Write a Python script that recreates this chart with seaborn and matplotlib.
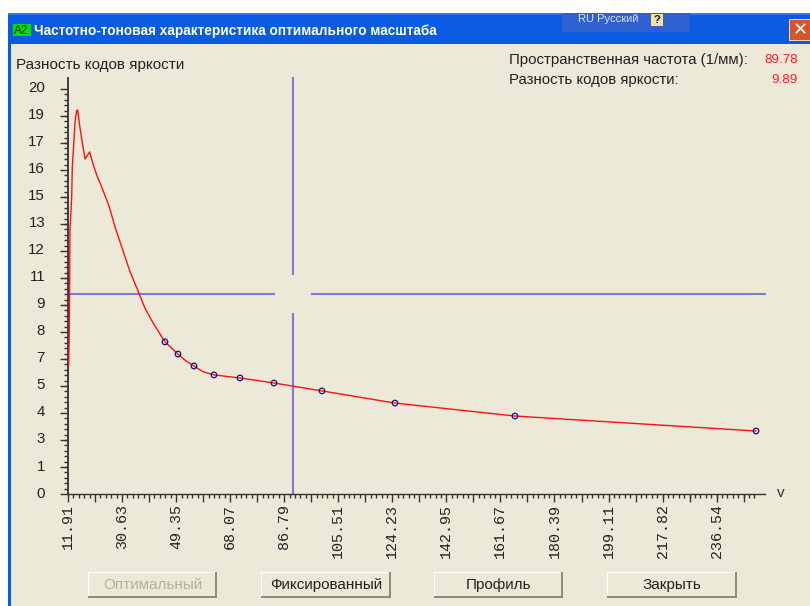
import numpy as np
import seaborn as sns
import matplotlib
matplotlib.use("Agg")
import matplotlib.pyplot as plt
from matplotlib.patches import Rectangle
from matplotlib.transforms import ScaledTranslation

# кривая, значения
curve_x = [12.15, 12.36, 12.60, 13.19, 13.40, 13.99, 14.33, 14.92, 15.27, 16.07, 17.0, 17.8,
           19.42, 20.67, 21.85, 23.58, 26.11, 28.19, 30.51, 33.38, 36.5, 38.57, 41.45,
           45.5, 50.0, 52.77, 55.54, 58.66, 62.47, 71.47, 83.25, 99.87, 125.15, 166.7, 250.2]
curve_y = [6.37, 8.10, 13.04, 14.67, 16.15, 17.48, 18.37, 18.93, 18.96, 18.07, 17.23, 16.54,
           16.89, 16.25, 15.75, 15.16, 14.22, 13.19, 12.2, 10.98, 9.91, 9.17, 8.43,
           7.51, 6.91, 6.57, 6.32, 6.04, 5.88, 5.73, 5.48, 5.09, 4.49, 3.85, 3.11]
point_x = [45.5, 50.0, 55.54, 62.47, 71.47, 83.25, 99.87, 125.15, 166.7, 250.2]
point_y = [7.51, 6.91, 6.32, 5.88, 5.73, 5.48, 5.09, 4.49, 3.85, 3.11]

x_ticks = [11.91, 21.27, 30.63, 39.99, 49.35, 58.71, 68.07, 77.43, 86.79, 96.15, 105.51, 114.87, 124.23,
           133.59, 142.95, 152.31, 161.67, 171.03, 180.39, 189.75, 199.11, 208.47, 217.82, 227.18,
           236.54, 245.9]
x_labels = ["11.91", "", "30.63", "", "49.35", "", "68.07", "", "86.79", "", "105.51", "", "124.23",
            "", "142.95", "", "161.67", "", "180.39", "", "199.11", "", "217.82", "", "236.54", ""]
y_ticks = [0, 1.333, 2.667, 4, 5.333, 6.667, 8, 9.333, 10.667, 12, 13.333, 14.667, 16, 17.333, 18.667, 20]
y_labels = ["0", "1", "3", "4", "5", "7", "8", "9", "11", "12", "13", "15", "16", "17", "19", "20"]

cross_x = 89.78
cross_y = 9.89
cross_v_low = [0, 8.94]
cross_v_high = [10.81, 20.59]
cross_h_left = [11.91, 83.6]
cross_h_right = [96.06, 253.6]

buttons = ["Оптимальный", "Фиксированный", "Профиль", "Закрыть"]
title = "Частотно-тоновая характеристика оптимального масштаба"

W, H = 810, 606
BG = "#ECE9D8"
sans = ["Liberation Sans", "DejaVu Sans"]

sns.set_style("ticks")
plt.rcParams["font.family"] = sans

fig = plt.figure(figsize=(W / 100, H / 100), dpi=100, facecolor="white")


def box(x0, y0, x1, y1, color, z=0):
    fig.add_artist(Rectangle((x0 / W, 1 - y1 / H), (x1 - x0) / W, (y1 - y0) / H, facecolor=color,
                             edgecolor="none", transform=fig.transFigure, zorder=z))


def label(x, y, s, **kw):
    fig.text(x / W, 1 - y / H, s, va="center", **kw)


# окно
box(8, 13, W, H, BG, -5)
box(8, 13, W, 44, "#0A5BE2", -4)
box(8, 13, W, 15, "#2F7BF0", -4)
box(8, 44, 11, H, "#0A5BE2", -4)

# оси
ax = fig.add_axes([68 / W, 1 - 494 / H, 697 / W, 416 / H])
ax.patch.set_alpha(0)

for xs, ys in [([cross_x, cross_x], cross_v_low), ([cross_x, cross_x], cross_v_high),
               (cross_h_left, [cross_y, cross_y]), (cross_h_right, [cross_y, cross_y])]:
    sns.lineplot(x=xs, y=ys, ax=ax, color="#7A7AD8", lw=1.5, estimator=None, sort=False,
                 solid_capstyle="butt", clip_on=False)

sns.lineplot(x=curve_x, y=curve_y, ax=ax, color="#FF1010", lw=1.0, estimator=None, sort=False, zorder=3)
sns.scatterplot(x=point_x, y=point_y, ax=ax, s=16, facecolor="none", edgecolor="#10108C",
                linewidth=0.9, zorder=4)

ax.set_xlim(11.91, 253.3)
ax.set_ylim(0, 20.54)
sns.despine(ax=ax)
for side in ["left", "bottom"]:
    ax.spines[side].set_color("#333333")
ax.spines["left"].set_linewidth(1.3)
ax.spines["bottom"].set_linewidth(1.0)

ax.set_xticks(x_ticks)
ax.set_xticklabels(x_labels, rotation=90, family=["Liberation Mono", "DejaVu Sans"], fontsize=10.8,
                   color="#222222", va="top", ha="center")
ax.set_xticks(np.arange(11.91, 250, 1.872), minor=True)
ax.set_yticks(y_ticks)
ax.set_yticklabels(y_labels, fontsize=10.8, color="#222222")
ax.set_yticks(np.arange(0, 20.1, 4 / 15), minor=True)
ax.tick_params(axis="x", which="major", length=6, width=1, color="#333333", pad=1.5)
ax.tick_params(axis="x", which="minor", length=3, width=1, color="#333333")
ax.tick_params(axis="y", which="major", length=6, width=1, color="#333333", pad=10.5)
ax.tick_params(axis="y", which="minor", length=3, width=1, color="#333333")
up = ScaledTranslation(0, 2 / 100, fig.dpi_scale_trans)
for lab in ax.get_yticklabels():
    lab.set_transform(lab.get_transform() + up)
ax.set_xlabel("")
ax.set_ylabel("")

# подписи
label(34, 31, title, color="white", fontsize=9.85, fontweight="bold")
label(16, 65, "Разность кодов яркости", color="#222222", fontsize=11)
label(509, 60, "Пространственная частота (1/мм):", color="#222222", fontsize=10.85)
label(509, 80, "Разность кодов яркости:", color="#222222", fontsize=10.85)
label(798, 60, "89.78", color="#FF2020", fontsize=9.6, ha="right")
label(798, 80, "9.89", color="#FF2020", fontsize=9.6, ha="right")
label(781, 493, "v", color="#333333", fontsize=11, ha="center")

# иконка и заголовочные кнопки
box(13, 24, 31, 36, "#00E000", -3)
label(14, 30.5, "A2", color="#103010", fontsize=8.5)
box(562, 13, 690, 32, "#2F62D0", -3)
label(578, 19, "RU Русский", color="#DDE6FF", fontsize=8)
box(651, 14, 663, 26, "#F4E48A", -2)
label(657, 20, "?", color="#10107A", fontsize=8, fontweight="bold", ha="center")
box(789, 19, W, 41, "#F0D8C8", -3)
box(790, 20, W, 40, "#D9542B", -2)
label(800, 30, "✕", color="white", fontsize=13, fontweight="bold", ha="center", family=["DejaVu Sans"])

# кнопки внизу
button_x = [(88, 217), (261, 391), (434, 563), (607, 737)]
for (x0, x1), name, col in zip(button_x, buttons, ["#B4B19F", "#222222", "#222222", "#222222"]):
    box(x0, 572, x1, 598, "#8E8C7C", -3)
    box(x0, 572, x1 - 2, 596, "white", -2)
    box(x0 + 1, 573, x1 - 2, 596, BG, -1)
    label((x0 + x1) / 2, 585, name, color=col, fontsize=11, ha="center")

fig.savefig("out.png", dpi=100)
plt.close(fig)
